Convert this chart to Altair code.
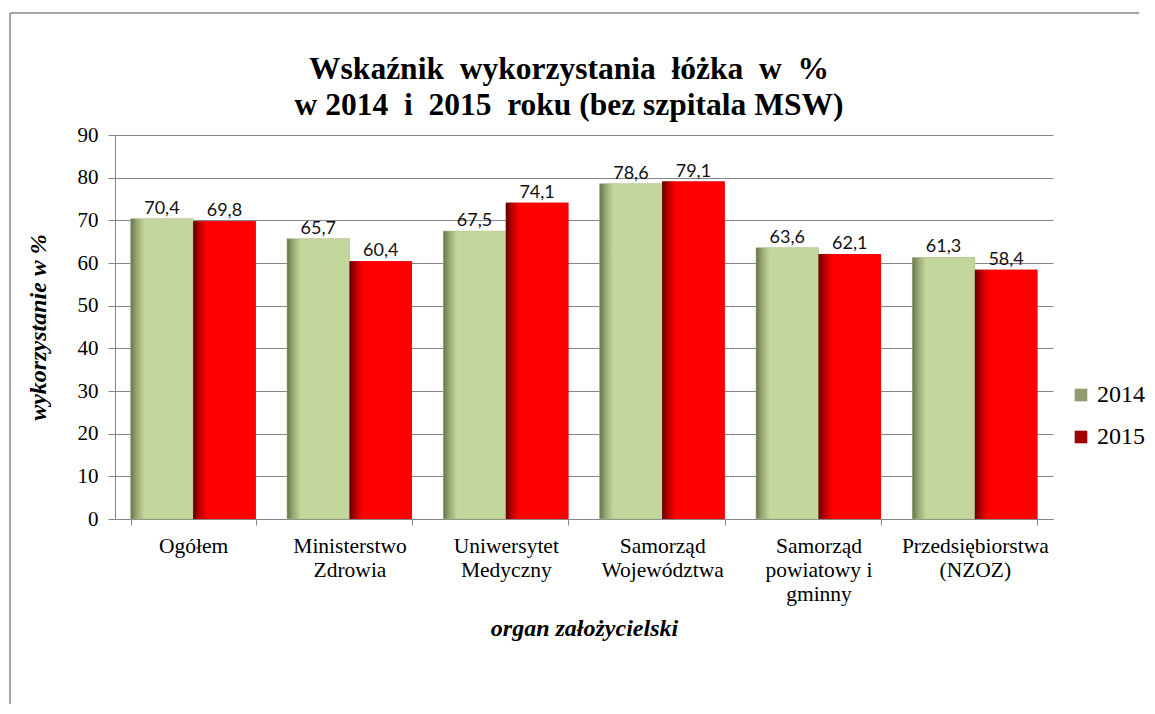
import altair as alt
import pandas as pd

categories = ["Ogółem", "Ministerstwo\nZdrowia", "Uniwersytet\nMedyczny",
              "Samorząd\nWojewództwa", "Samorząd\npowiatowy i\ngminny",
              "Przedsiębiorstwa\n(NZOZ)"]
years = ["2014", "2015"]
values_2014 = [70.4, 65.7, 67.5, 78.6, 63.6, 61.3]
values_2015 = [69.8, 60.4, 74.1, 79.1, 62.1, 58.4]
y_ticks = [0, 10, 20, 30, 40, 50, 60, 70, 80, 90]

title_lines = ["Wskaźnik\u00a0 wykorzystania\u00a0 łóżka\u00a0 w\u00a0 %",
               "w 2014\u00a0 i\u00a0 2015\u00a0 roku (bez szpitala MSW)"]

rows = []
for c, a, b in zip(categories, values_2014, values_2015):
    rows.append({"organ": c, "rok": "2014", "value": a})
    rows.append({"organ": c, "rok": "2015", "value": b})
df = pd.DataFrame(rows)

SERIF = "Liberation Serif"
GRAY = "#868686"

grad_green = alt.Gradient(
    gradient="linear", x1=0, x2=1, y1=0, y2=0,
    stops=[alt.GradientStop(offset=0, color="#65744A"),
           alt.GradientStop(offset=0.1, color="#98A974"),
           alt.GradientStop(offset=0.22, color="#C3D69B"),
           alt.GradientStop(offset=1, color="#C3D69B")])
grad_red = alt.Gradient(
    gradient="linear", x1=0, x2=1, y1=0, y2=0,
    stops=[alt.GradientStop(offset=0, color="#640000"),
           alt.GradientStop(offset=0.1, color="#B80000"),
           alt.GradientStop(offset=0.22, color="#FF0000"),
           alt.GradientStop(offset=1, color="#FF0000")])

x_enc = alt.X("organ:N", sort=categories,
              scale=alt.Scale(paddingInner=0.2, paddingOuter=0.1),
              axis=alt.Axis(title="organ założycielski", labelAngle=0,
                            labelExpr="datum.value ? split(datum.value, '\\n') : ''",
                            labelFont=SERIF, labelFontSize=21.5, labelColor="black",
                            labelLineHeight=24, labelPadding=10,
                            tickBand="extent", tickSize=6, tickColor=GRAY,
                            domainColor=GRAY, grid=False,
                            titleFont=SERIF, titleFontSize=24, titleFontWeight="bold",
                            titleFontStyle="italic", titleColor="black",
                            titleY=109, titleBaseline="middle"))
xo_enc = alt.XOffset("rok:N", sort=years)
y_enc = alt.Y("value:Q", scale=alt.Scale(domain=[0, 90], nice=False),
              axis=alt.Axis(title="wykorzystanie w %", values=y_ticks,
                            labelFont=SERIF, labelFontSize=21, labelColor="black",
                            labelPadding=10, tickSize=7, tickColor=GRAY,
                            domainColor=GRAY, gridColor=GRAY, gridWidth=1,
                            titleFont=SERIF, titleFontSize=24, titleFontWeight="bold",
                            titleFontStyle="italic", titleColor="black",
                            titleX=-77, titleY=192, titleBaseline="middle"))

base = alt.Chart(df)

bars_legend = base.mark_bar().encode(
    x=x_enc, xOffset=xo_enc, y=y_enc,
    color=alt.Color("rok:N", sort=years,
                    scale=alt.Scale(domain=years, range=["#8E9A70", "#A00000"]),
                    legend=alt.Legend(title=None, orient="none", legendX=954, legendY=248,
                                      symbolType="square", symbolSize=160,
                                      symbolStrokeWidth=0, labelFont=SERIF,
                                      labelFontSize=24, labelColor="black",
                                      rowPadding=18, labelOffset=4)))

bars_2014 = base.transform_filter(alt.datum.rok == "2014").mark_bar(
    fill=grad_green, stroke="#B5C78E", strokeWidth=0.5).encode(
    x=x_enc, xOffset=xo_enc, y=y_enc)
bars_2015 = base.transform_filter(alt.datum.rok == "2015").mark_bar(
    fill=grad_red).encode(x=x_enc, xOffset=xo_enc, y=y_enc)

labels = base.transform_calculate(
    label="replace(format(datum.value, '.1f'), '.', ',')"
).mark_text(font="Lato", fontSize=18, color="#111111", baseline="alphabetic",
            dy=-5).encode(x=x_enc, xOffset=xo_enc, y=y_enc, text="label:N")

frame = alt.Chart(alt.Data(values=[{}]))
border_top = frame.mark_rule(stroke=GRAY, strokeWidth=1.5).encode(
    x=alt.value(-105), x2=alt.value(1024), y=alt.value(-122))
border_left = frame.mark_rule(stroke=GRAY, strokeWidth=1.5).encode(
    x=alt.value(-105), y=alt.value(-122), y2=alt.value(580))

chart = alt.layer(border_top, border_left, bars_legend, bars_2014, bars_2015,
                  labels).properties(
    width=938, height=384,
    title=alt.TitleParams(text=title_lines, font=SERIF, fontSize=31.5, fontWeight="bold",
                          color="black", anchor="middle", dx=-15, offset=-109,
                          lineHeight=36),
    autosize=alt.AutoSizeParams(type="none"),
    padding={"left": 107, "top": 127, "right": 94, "bottom": 185},
).configure_view(stroke=None)

chart.save("out.html", embed_options={"renderer": "svg", "actions": False})
